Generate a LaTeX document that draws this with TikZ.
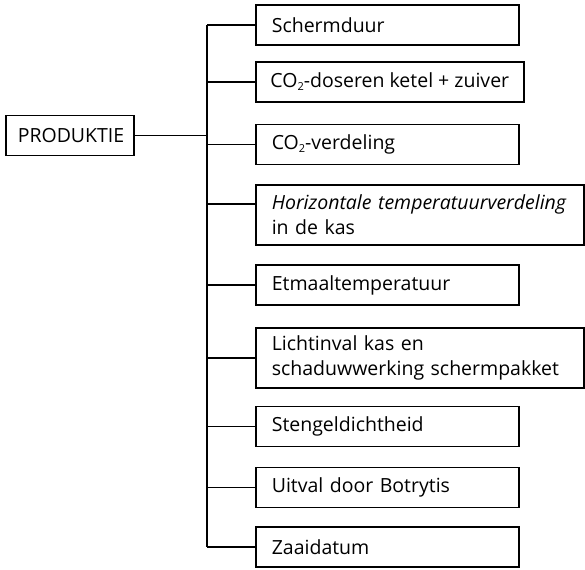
\documentclass[tikz,border=0pt]{standalone}
\usepackage{fontspec}
\setmainfont{Open Sans}
\usetikzlibrary{positioning}
\newcommand\onder[1]{\raisebox{-0.3ex}{\fontsize{11}{11}\selectfont #1}}
\tikzset{
  vak/.style={draw, line width=1.6pt, anchor=west, align=left, inner xsep=16pt, inner ysep=0pt,
    minimum height=40pt, text width=231pt, font=\fontsize{19.5}{25}\selectfont},
  breed/.style={text width=296pt, minimum height=60pt},
  tak/.style={line width=1.6pt}
}
\begin{document}
\begin{tikzpicture}[x=1pt,y=-1pt]
        \useasboundingbox (0,0) rectangle (585,569);
        % hoofdvak
        \node[vak, inner xsep=12pt, text width=104pt] (prod) at (5,135.5) {PRODUKTIE};
        \coordinate (hub) at (207,135.5);
        % factoren
        \node[vak] (s1) at (255,25) {Schermduur};
        \node[vak, text width={}, inner xsep=14pt, minimum width=268pt] (s2) at (255,82) {CO\onder{2}-doseren ketel + zuiver};
        \node[vak] (s3) at (255,144.5) {CO\onder{2}-verdeling};
        \node[vak, breed] (s4) at (255,215) {\textit{Horizontale temperatuurverdeling}\\in de kas};
        \node[vak] (s5) at (255,285) {Etmaaltemperatuur};
        \node[vak, breed] (s6) at (255,358) {Lichtinval kas en\\schaduwwerking schermpakket};
        \node[vak] (s7) at (255,426.5) {Stengeldichtheid};
        \node[vak] (s8) at (255,487.5) {Uitval door Botrytis};
        \node[vak] (s9) at (255,547) {Zaaidatum};
        \coordinate (s4in) at ([yshift=11pt]s4.west);
        % verbindingen
        \draw[tak] (prod.east) -- (hub);
        \draw[tak] (hub |- s1.west) -- (hub |- s9.west);
        \foreach \s in {s1,s2,s3,s5,s6,s7,s8,s9}
          \draw[tak] (hub |- \s.west) -- (\s.west);
        \draw[tak] (hub |- s4in) -- (s4in);
\end{tikzpicture}
\end{document}
